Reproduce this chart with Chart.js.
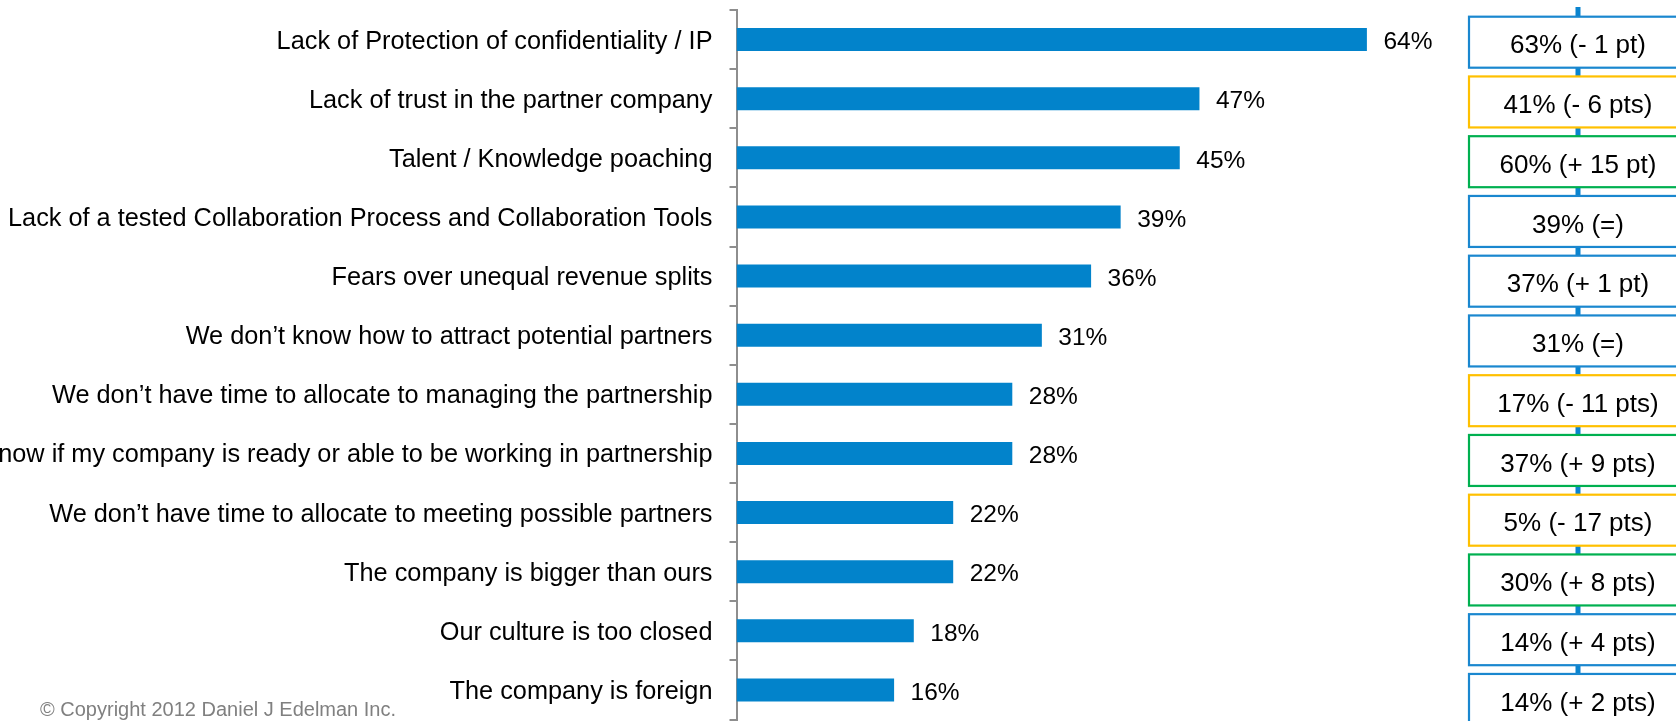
<!DOCTYPE html>
<html>
<head>
<meta charset="utf-8">
<script src="https://cdn.jsdelivr.net/npm/chart.js@4/dist/chart.umd.min.js"></script>
<style>
  html, body { margin: 0; padding: 0; background: #fff; }
  #wrap { position: relative; width: 1676px; height: 721px; overflow: hidden; }
  #barriers { display: block; }
</style>
</head>
<body>
<div id="wrap"><canvas id="barriers" width="1676" height="721"></canvas></div>
<script>
// Barriers to partnering, current wave vs previous wave
const categories = [
  'Lack of Protection of confidentiality / IP',
  'Lack of trust in the partner company',
  'Talent / Knowledge poaching',
  'Lack of a tested Collaboration Process and Collaboration Tools',
  'Fears over unequal revenue splits',
  'We don\u2019t know how to attract potential partners',
  'We don\u2019t have time to allocate to managing the partnership',
  'We don\u2019t know if my company is ready or able to be working in partnership',
  'We don\u2019t have time to allocate to meeting possible partners',
  'The company is bigger than ours',
  'Our culture is too closed',
  'The company is foreign'
];
const currentShare = [64, 47, 45, 39, 36, 31, 28, 28, 22, 22, 18, 16];
const previousShare = [63, 41, 60, 39, 37, 31, 17, 37, 5, 30, 14, 14];
const changeLabels = ['- 1 pt', '- 6 pts', '+ 15 pt', '=', '+ 1 pt', '=', '- 11 pts', '+ 9 pts', '- 17 pts', '+ 8 pts', '+ 4 pts', '+ 2 pts'];
const changeTones = ['flat', 'down', 'up', 'flat', 'flat', 'flat', 'down', 'up', 'down', 'up', 'flat', 'flat'];

const FONT = '"Liberation Sans", Arial, sans-serif';
const BAR_BLUE = '#0283cb';
const AXIS_GREY = '#8e8e8e';
const toneColors = { flat: '#1a87cf', down: '#ffc000', up: '#00b050' };

// Percent labels just past the end of each bar
const valueLabels = {
  id: 'valueLabels',
  afterDatasetsDraw(chart) {
    const ctx = chart.ctx;
    const meta = chart.getDatasetMeta(0);
    ctx.save();
    ctx.font = `24.5px ${FONT}`;
    ctx.fillStyle = '#000';
    ctx.textAlign = 'left';
    ctx.textBaseline = 'alphabetic';
    meta.data.forEach((bar, i) => {
      ctx.fillText(`${currentShare[i]}%`, bar.x + 16.5, bar.y + 9.8);
    });
    ctx.restore();
  }
};

// Previous-wave comparison boxes strung on a vertical line at the right
const comparisonBoxes = {
  id: 'comparisonBoxes',
  afterDraw(chart) {
    const ctx = chart.ctx;
    const cx = 1578, boxLeft = 1469, boxW = 220, boxH = 51;
    const firstTop = 16.7, pitch = 59.75;
    ctx.save();
    ctx.fillStyle = '#0a84cf';
    ctx.fillRect(cx - 2.5, 7, 5, chart.height - 7);

    ctx.font = `26px ${FONT}`;
    ctx.textAlign = 'center';
    ctx.textBaseline = 'alphabetic';
    previousShare.forEach((v, i) => {
      const top = firstTop + i * pitch;
      ctx.fillStyle = '#fff';
      ctx.fillRect(boxLeft, top, boxW, boxH);
      ctx.lineWidth = 2.2;
      ctx.strokeStyle = toneColors[changeTones[i]];
      ctx.strokeRect(boxLeft, top, boxW, boxH);
      ctx.fillStyle = '#000';
      ctx.fillText(`${v}% (${changeLabels[i]})`, cx, top + 36.6);
    });

    ctx.font = `20px ${FONT}`;
    ctx.fillStyle = '#808080';
    ctx.textAlign = 'left';
    ctx.fillText('\u00a9 Copyright 2012 Daniel J Edelman Inc.', 40, 716);
    ctx.restore();
  }
};

new Chart(document.getElementById('barriers'), {
  type: 'bar',
  data: {
    labels: categories,
    datasets: [{
      data: currentShare,
      backgroundColor: BAR_BLUE,
      borderWidth: 0,
      barPercentage: 0.39,
      categoryPercentage: 1
    }]
  },
  options: {
    indexAxis: 'y',
    responsive: false,
    animation: false,
    events: [],
    layout: { padding: { left: 0, top: 10, right: 250, bottom: 1.5 } },
    plugins: {
      legend: { display: false },
      tooltip: { enabled: false }
    },
    scales: {
      x: {
        display: false,
        min: 0,
        max: 70
      },
      y: {
        // fixed axis width; labels may run off the left edge
        afterFit(scale) {
          scale.width = 736.5;
          scale.paddingTop = 0;
          scale.paddingBottom = 0;
        },
        border: { color: AXIS_GREY, width: 2 },
        grid: {
          offset: true,
          drawOnChartArea: false,
          tickLength: 7,
          color: AXIS_GREY,
          lineWidth: 2
        },
        ticks: {
          autoSkip: false,
          color: '#000',
          padding: 17,
          labelOffset: 2,
          font: { family: FONT, size: 25.3 }
        }
      }
    }
  },
  plugins: [valueLabels, comparisonBoxes]
});
</script>
</body>
</html>
